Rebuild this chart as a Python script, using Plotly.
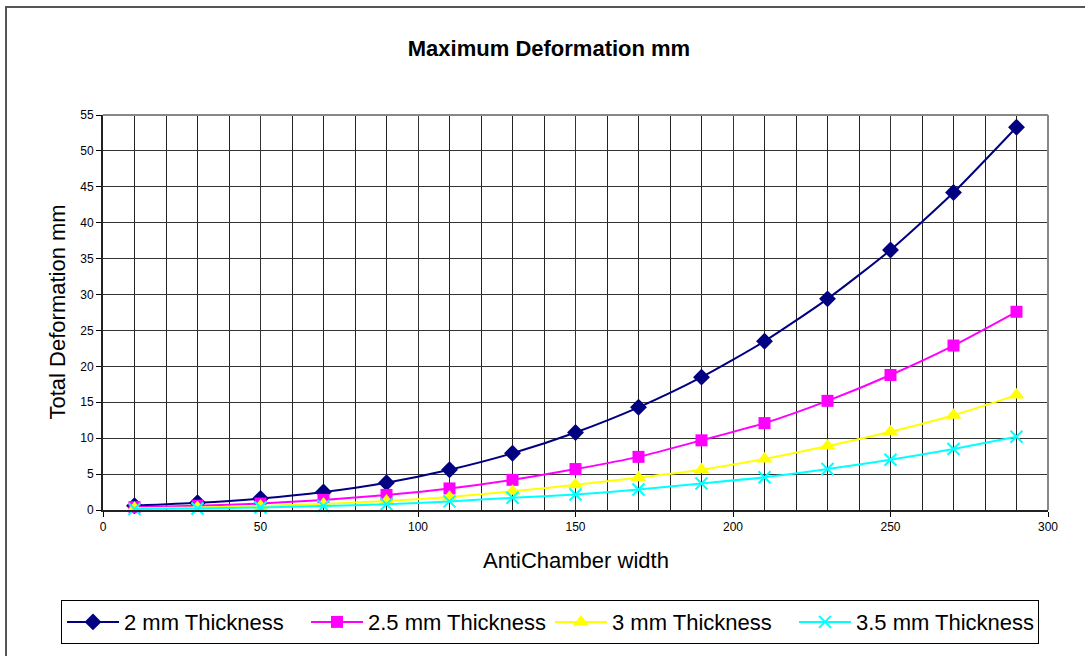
import plotly.graph_objects as go

widths = [10, 30, 50, 70, 90, 110, 130, 150, 170, 190, 210, 230, 250, 270, 290]
t2_0 = [0.6, 1.0, 1.6, 2.5, 3.8, 5.6, 7.9, 10.8, 14.3, 18.5, 23.5, 29.4, 36.2, 44.2, 53.3]
t2_5 = [0.4, 0.6, 0.9, 1.4, 2.1, 3.0, 4.2, 5.7, 7.4, 9.7, 12.1, 15.2, 18.8, 22.9, 27.6]
t3_0 = [0.25, 0.35, 0.55, 0.85, 1.25, 1.8, 2.6, 3.5, 4.5, 5.6, 7.1, 8.9, 10.9, 13.2, 16.0]
t3_5 = [0.15, 0.2, 0.35, 0.55, 0.8, 1.2, 1.7, 2.15, 2.85, 3.7, 4.55, 5.7, 7.0, 8.5, 10.2]

names = ["2 mm Thickness", "2.5 mm Thickness", "3 mm Thickness", "3.5 mm Thickness"]
series = [t2_0, t2_5, t3_0, t3_5]
colors = ["#000080", "#FF00FF", "#FFFF00", "#00FFFF"]
symbols = ["diamond", "square", "triangle-up", "x-thin"]
sizes = [13, 12, 14, 12]

FONT = "Liberation Sans, Arial, sans-serif"

fig = go.Figure()
for name, ys, c, s, sz in zip(names, series, colors, symbols, sizes):
    marker = dict(symbol=s, color=c, size=sz)
    if s == "x-thin":
        marker["line"] = dict(color=c, width=2)
    else:
        marker["line"] = dict(width=0)
    fig.add_trace(go.Scatter(
        x=widths, y=ys, name=name, mode="lines+markers",
        line=dict(color=c, width=2, shape="spline", smoothing=0.6),
        marker=marker, cliponaxis=False,
    ))

L, R, T, B = 103, 37, 115, 142
W, H = 1085, 656
pw, ph = W - L - R, H - T - B

fig.update_layout(
    width=W, height=H,
    margin=dict(l=L, r=R, t=T, b=B),
    paper_bgcolor="white", plot_bgcolor="white",
    font=dict(family=FONT, color="black"),
    title=dict(text="<b>Maximum Deformation mm</b>", x=549 / W, xanchor="center",
               y=1 - 48 / H, yanchor="middle", yref="container",
               font=dict(size=22, family=FONT, color="black")),
    showlegend=True,
    legend=dict(orientation="h", x=(61 - L) / pw, y=(T + ph - 605) / ph,
                xanchor="left", yanchor="top",
                bordercolor="black", borderwidth=1, bgcolor="white",
                font=dict(size=22, family=FONT, color="black"),
                itemwidth=52, entrywidth=177, entrywidthmode="pixels", tracegroupgap=0),
    xaxis=dict(range=[0, 300], tick0=0, dtick=50, showgrid=True, gridcolor="#333333", gridwidth=1,
               minor=dict(tick0=0, dtick=10, showgrid=True, gridcolor="#222222", gridwidth=1),
               ticks="outside", ticklen=5, tickcolor="black",
               showline=True, linecolor="#222222", linewidth=2, zeroline=False,
               tickfont=dict(size=12, family=FONT, color="black")),
    yaxis=dict(range=[0, 55], tick0=0, dtick=5, showgrid=True, gridcolor="#333333", gridwidth=1,
               ticks="outside", ticklen=5, tickcolor="black",
               showline=True, linecolor="#222222", linewidth=2, zeroline=False,
               tickfont=dict(size=12, family=FONT, color="black")),
    annotations=[
        dict(text="AntiChamber width", xref="paper", yref="paper", x=0.5, y=(T + ph - 565) / ph,
             xanchor="center", yanchor="middle", showarrow=False,
             font=dict(size=22, family=FONT, color="black")),
        dict(text="Total Deformation mm", xref="paper", yref="paper", x=(57 - L) / pw, y=0.5,
             xanchor="center", yanchor="middle", showarrow=False, textangle=-90,
             font=dict(size=22, family=FONT, color="black")),
    ],
    shapes=[
        dict(type="line", xref="paper", yref="paper", x0=0, x1=1, y0=1, y1=1,
             line=dict(color="#888888", width=2), layer="above"),
        dict(type="line", xref="paper", yref="paper", x0=1, x1=1, y0=0, y1=1,
             line=dict(color="#888888", width=2), layer="above"),
        dict(type="rect", xref="paper", yref="paper",
             x0=(6 - L) / pw, x1=(W + 10 - L) / pw,
             y0=(T + ph - (H + 10)) / ph, y1=(T + ph - 6) / ph,
             line=dict(color="#555555", width=2), fillcolor="rgba(0,0,0,0)", layer="below"),
    ],
)

fig.write_html("out.html")
